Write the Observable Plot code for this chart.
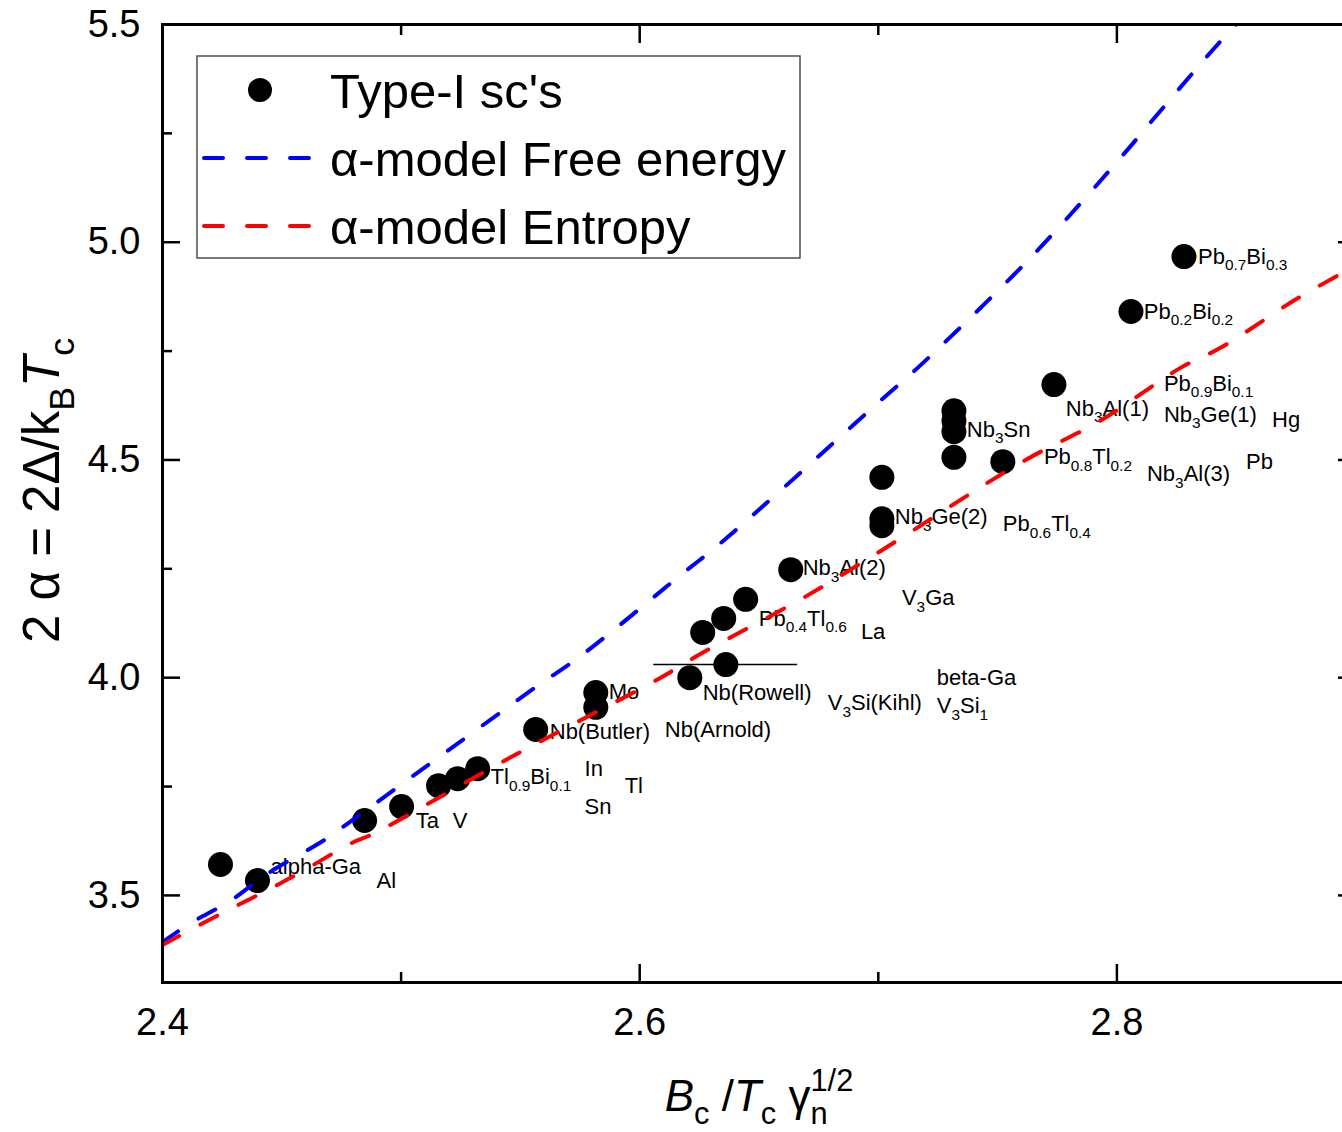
<!DOCTYPE html>
<html><head><meta charset="utf-8">
<script src="https://cdn.jsdelivr.net/npm/d3@7"></script>
<script src="https://cdn.jsdelivr.net/npm/@observablehq/plot@0.6"></script>
<style>
html,body{margin:0;padding:0;background:#fff;overflow:hidden;}
#wrap{position:relative;width:1342px;height:1132px;overflow:hidden;background:#fff;}
</style></head><body><div id="wrap"></div>
<script>
// ---- data ----
const pointX = [2.4243, 2.4398, 2.4847, 2.5002, 2.5157, 2.5237, 2.5321, 2.5564, 2.5816, 2.5816,
  2.6210, 2.6361, 2.6264, 2.6352, 2.6444, 2.6633, 2.7015, 2.7015, 2.7015, 2.7317,
  2.7317, 2.7317, 2.7317, 2.7522, 2.7736, 2.8059, 2.8281];
const pointY = [3.571, 3.534, 3.672, 3.704, 3.752, 3.768, 3.791, 3.881, 3.966, 3.932,
  4.000, 4.030, 4.104, 4.136, 4.180, 4.248, 4.349, 4.365, 4.460, 4.506,
  4.565, 4.590, 4.613, 4.496, 4.673, 4.841, 4.967];

const errX1 = [2.6059];
const errX2 = [2.6662];
const errY = [4.030];

const labelText = ["alpha-Ga", "Al", "Ta", "V", "Tl_{0.9}Bi_{0.1}", "In", "Sn", "Tl", "Nb(Butler)", "Mo",
  "Nb(Arnold)", "Nb(Rowell)", "V_{3}Si(Kihl)", "beta-Ga", "V_{3}Si_{1}", "Pb_{0.4}Tl_{0.6}", "La", "Nb_{3}Al(2)", "V_{3}Ga", "Nb_{3}Ge(2)",
  "Pb_{0.6}Tl_{0.4}", "Nb_{3}Sn", "Pb_{0.8}Tl_{0.2}", "Nb_{3}Al(3)", "Pb", "Nb_{3}Al(1)", "Pb_{0.9}Bi_{0.1}", "Nb_{3}Ge(1)", "Hg", "Pb_{0.2}Bi_{0.2}",
  "Pb_{0.7}Bi_{0.3}"];
const labelX = [2.4453, 2.4897, 2.5061, 2.5216, 2.5375, 2.5769, 2.5769, 2.5937, 2.5623, 2.5870,
  2.6105, 2.6264, 2.6788, 2.7245, 2.7245, 2.6499, 2.6927, 2.6683, 2.7099, 2.7069,
  2.7522, 2.7371, 2.7694, 2.8126, 2.8541, 2.7786, 2.8197, 2.8197, 2.8650, 2.8113,
  2.8340];
const labelY = [3.566, 3.534, 3.672, 3.672, 3.771, 3.791, 3.704, 3.752, 3.876, 3.968,
  3.881, 3.964, 3.941, 4.000, 3.934, 4.136, 4.104, 4.251, 4.182, 4.368,
  4.352, 4.570, 4.506, 4.467, 4.496, 4.618, 4.675, 4.604, 4.591, 4.841,
  4.967];

const blueX = [2.4000, 2.4117, 2.4285, 2.4440, 2.4675, 2.4776, 2.5082, 2.5543, 2.5765, 2.6159,
  2.6352, 2.7023, 2.7166, 2.7639, 2.8017, 2.8155, 2.8407, 2.8500];
const blueY = [3.393, 3.436, 3.488, 3.550, 3.626, 3.665, 3.787, 3.970, 4.055, 4.230,
  4.315, 4.643, 4.712, 4.965, 5.195, 5.284, 5.445, 5.500];

const redX = [2.4000, 2.4231, 2.4411, 2.4579, 2.4788, 2.4885, 2.5459, 2.6088, 2.6256, 2.6688,
  2.6981, 2.7598, 2.7933, 2.8268, 2.8436, 2.8742, 2.8939, 2.9000];
const redY = [3.386, 3.454, 3.504, 3.553, 3.619, 3.642, 3.817, 4.000, 4.055, 4.184,
  4.281, 4.494, 4.591, 4.712, 4.758, 4.866, 4.928, 4.948];

const xMajor = [2.4, 2.6, 2.8];
const xMinor = [2.5, 2.7];
const yMajor = [3.5, 4.0, 4.5, 5.0, 5.5];
const yMinor = [3.75, 4.25, 4.75, 5.25];

const legendLabels = ["Type-I sc's", "α-model Free energy", "α-model Entropy"];
const seriesColors = ["#000000", "#0000ff", "#ff0000"];

const xTitle = "*B*_{c} /*T*_{c} γ_{n}^{1/2}";
const yTitle = "2 α = 2Δ/k_{B}*T*_{c}";

// ---- build ----
const font = "'Liberation Sans', Arial, Helvetica, sans-serif";
const points = pointX.map((x, i) => ({x, y: pointY[i]}));
const errBars = errX1.map((x1, i) => ({x1, x2: errX2[i], y: errY[i]}));
const labels = labelText.map((t, i) => ({t, x: labelX[i], y: labelY[i]}));
const blue = blueX.map((x, i) => ({x, y: blueY[i]}));
const red = redX.map((x, i) => ({x, y: redY[i]}));
const dash = "19,24";
const blank = () => "";

const svg = Plot.plot({
  width: 1360, height: 1132,
  marginLeft: 162, marginRight: 5, marginTop: 24, marginBottom: 150,
  style: {fontFamily: font, fontSize: "22px", background: "white", maxWidth: "none", overflow: "visible", color: "black"},
  x: {domain: [2.4, 2.9]},
  y: {domain: [3.3, 5.5]},
  marks: [
    Plot.dot(points, {x: "x", y: "y", r: 12.5, fill: "black", stroke: "none"}),
    Plot.ruleY(errBars, {y: "y", x1: "x1", x2: "x2", stroke: "black", strokeWidth: 1.5}),
    Plot.text(labels, {x: "x", y: "y", text: "t", textAnchor: "start", lineAnchor: "middle", fontSize: 22, fill: "black"}),
    Plot.line(blue, {x: "x", y: "y", stroke: seriesColors[1], strokeWidth: 4, strokeDasharray: dash, strokeLinecap: "round", curve: "catmull-rom", clip: true}),
    Plot.line(red, {x: "x", y: "y", stroke: seriesColors[2], strokeWidth: 4, strokeDasharray: dash, strokeLinecap: "round", curve: "catmull-rom", clip: true}),
    Plot.axisX({ticks: xMajor, tickSize: -18, tickPadding: 44, tickFormat: ".1f", fontSize: 38, label: null, strokeWidth: 2.5}),
    Plot.axisX({ticks: xMinor, tickSize: -10, tickFormat: blank, label: null, strokeWidth: 2.5}),
    Plot.axisX({anchor: "top", ticks: xMajor, tickSize: -18, tickFormat: blank, label: null, strokeWidth: 2.5}),
    Plot.axisX({anchor: "top", ticks: xMinor, tickSize: -10, tickFormat: blank, label: null, strokeWidth: 2.5}),
    Plot.axisY({ticks: yMajor, tickSize: -18, tickPadding: 40, tickFormat: ".1f", fontSize: 38, label: null, strokeWidth: 2.5}),
    Plot.axisY({ticks: yMinor, tickSize: -10, tickFormat: blank, label: null, strokeWidth: 2.5}),
    Plot.axisY({anchor: "right", ticks: yMajor, tickSize: -18, tickFormat: blank, label: null, strokeWidth: 2.5}),
    Plot.axisY({anchor: "right", ticks: yMinor, tickSize: -10, tickFormat: blank, label: null, strokeWidth: 2.5}),
    Plot.frame({stroke: "black", strokeWidth: 3}),
    Plot.text([xTitle], {text: d => d, frameAnchor: "bottom", dy: 114, lineAnchor: "middle", textAnchor: "middle", fontSize: 44, fill: "black"}),
    Plot.text([yTitle], {text: d => d, frameAnchor: "left", dx: -120, dy: -13, rotate: -90, lineAnchor: "middle", textAnchor: "middle", fontSize: 51, fill: "black"})
  ]
});
const wrap = document.getElementById("wrap");
wrap.append(svg);

// rich text: _{sub}, ^{sup}, *italic*
function richify(el) {
  const s = el.textContent;
  if (!/[_^]\{|\*/.test(s)) return;
  const size = parseFloat(getComputedStyle(el).fontSize) || 22;
  const parts = s.split(/(_\{[^}]*\}|\^\{[^}]*\}|\*[^*]+\*)/).filter(p => p);
  el.textContent = "";
  let shift = 0, prev = null, prevKind = null;
  for (const p of parts) {
    const t = document.createElementNS("http://www.w3.org/2000/svg", "tspan");
    let kind = "n", txt = p, target = 0;
    if (p.startsWith("_{")) { kind = "sub"; txt = p.slice(2, -1); target = 0.3 * size; }
    else if (p.startsWith("^{")) { kind = "sup"; txt = p.slice(2, -1); target = -0.45 * size; }
    else if (p.length > 2 && p.startsWith("*") && p.endsWith("*")) { kind = "it"; txt = p.slice(1, -1); t.setAttribute("font-style", "italic"); }
    if (kind === "sub" || kind === "sup") t.setAttribute("font-size", (0.7 * size) + "px");
    const dy = target - shift;
    if (dy) t.setAttribute("dy", dy + "px");
    shift = target;
    t.textContent = txt;
    el.appendChild(t);
    if (kind === "sup" && prevKind === "sub" && prev) t.setAttribute("dx", (-prev.getComputedTextLength()) + "px");
    prev = t; prevKind = kind;
  }
}
svg.querySelectorAll("text").forEach(richify);

// legend (inside plot area, top-left)
const leg = d3.select(wrap).append("svg")
  .attr("width", 606).attr("height", 205)
  .style("position", "absolute").style("left", "195px").style("top", "54px")
  .style("font-family", font);
leg.append("rect").attr("x", 2).attr("y", 2).attr("width", 603).attr("height", 202)
  .attr("fill", "white").attr("stroke", "#4d4d4d").attr("stroke-width", 1.5);
leg.append("circle").attr("cx", 65).attr("cy", 36).attr("r", 12).attr("fill", seriesColors[0]);
[1, 2].forEach(k => {
  const yy = 36 + k * 68;
  leg.append("line").attr("x1", 9).attr("x2", 124).attr("y1", yy).attr("y2", yy)
    .attr("stroke", seriesColors[k]).attr("stroke-width", 4)
    .attr("stroke-dasharray", dash).attr("stroke-linecap", "round");
});
legendLabels.forEach((t, k) => {
  leg.append("text").attr("x", 135).attr("y", 36 + k * 68 + 18)
    .attr("font-size", 49).attr("fill", "black").text(t);
});
</script></body></html>
